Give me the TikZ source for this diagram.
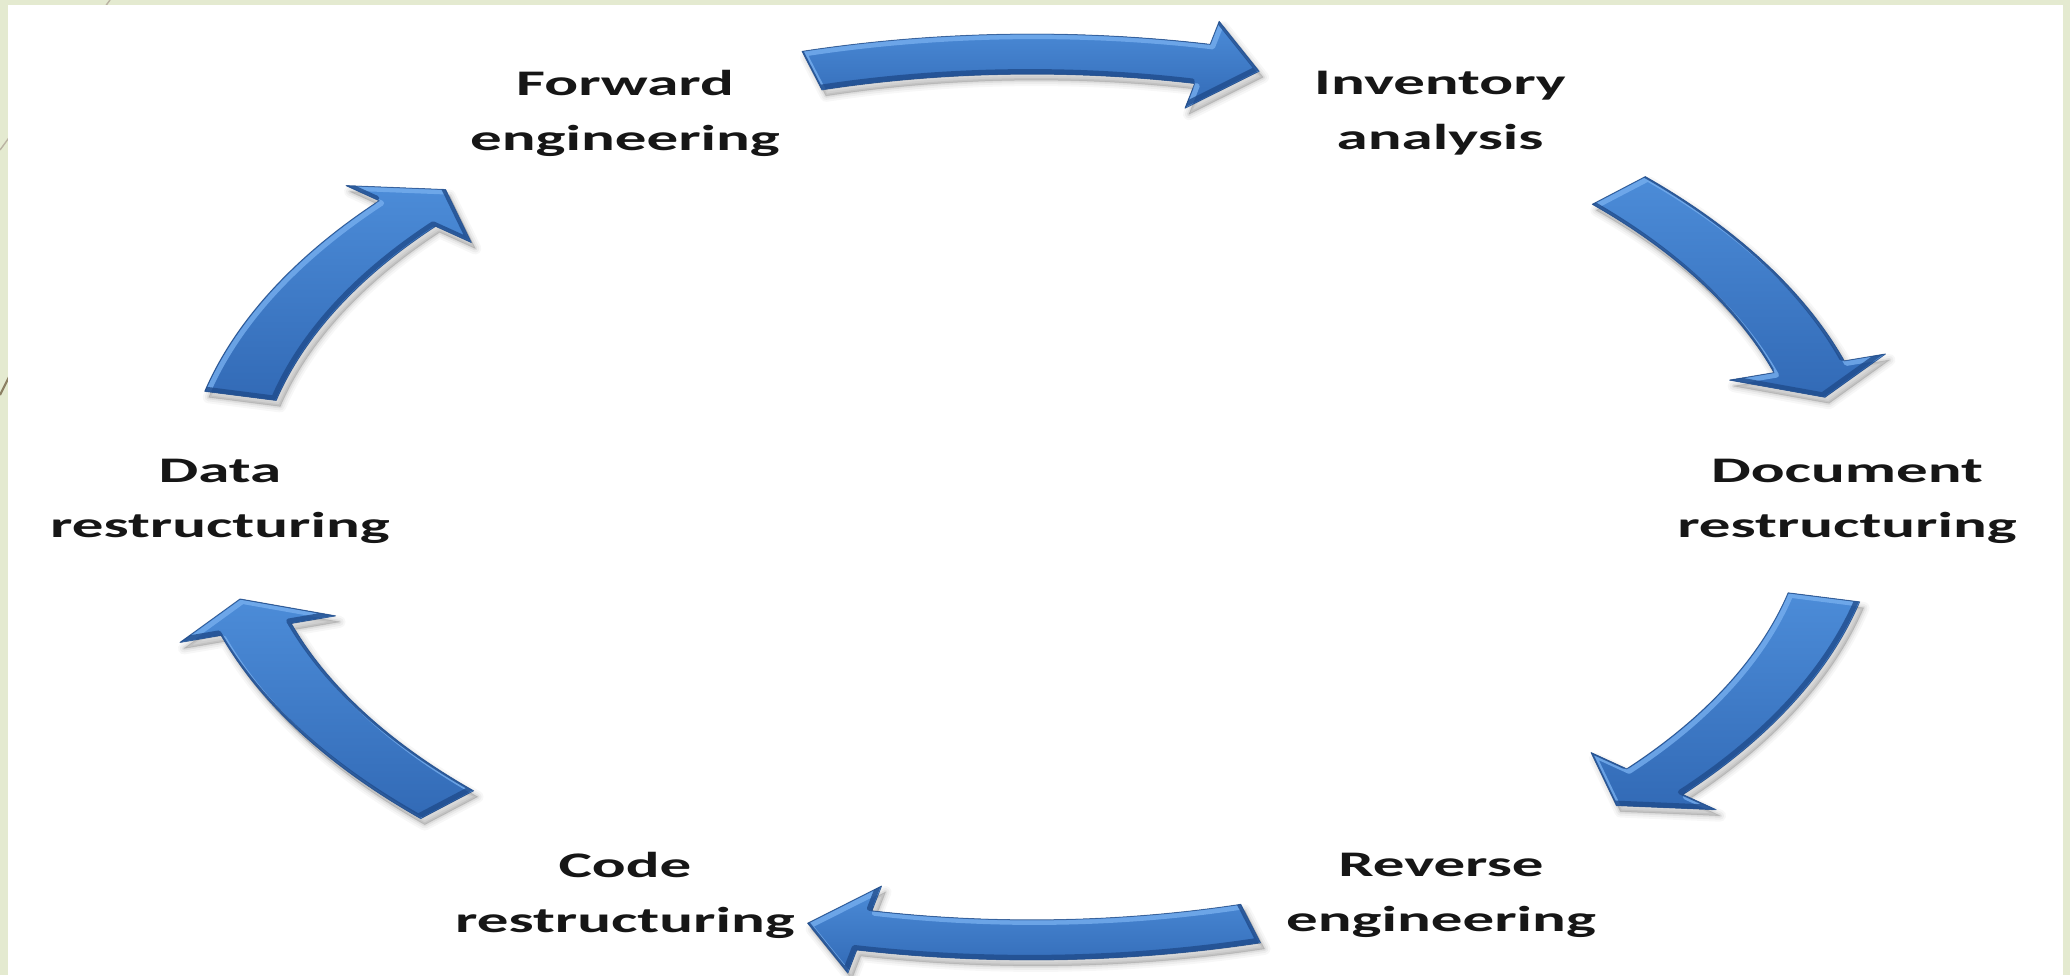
\documentclass[tikz,border=0pt]{standalone}
\usepackage{fontspec}
\newfontfamily\lblfont{Carlito}[FakeStretch=1.75]
\begin{document}
\begin{tikzpicture}[x=0.01cm,y=0.01cm]
  \definecolor{slidebg}{RGB}{228,234,208}
  \definecolor{slideline}{RGB}{140,128,100}
  \definecolor{arrowtop}{RGB}{76,140,216}
  \definecolor{arrowbot}{RGB}{50,106,182}
  \definecolor{bevellight}{RGB}{118,174,238}
  \definecolor{beveldark}{RGB}{32,76,140}
  \definecolor{labeltext}{RGB}{22,22,22}
  \tikzset{
    lbl/.style={inner sep=0pt, align=center, text=labeltext,
      font=\lblfont\bfseries\fontsize{10.24pt}{15.65pt}\selectfont},
  }
  % ellipse the cycle runs on, and the radii of the arrow parts
  \def\rx{8.15cm}\def\ry{4.44cm}
  \def\ro{1.042}\def\ri{0.952}\def\tp{0.998}\def\bo{1.095}\def\bi{0.895}
  \newcommand\cyclearrow[2]{%
    \pgfmathsetmacro\hb{#2+4.1}%
    \def\arrowshape{({#1}:{\ro*\rx} and {\ro*\ry})
      arc[start angle={#1}, end angle=\hb, x radius={\ro*\rx}, y radius={\ro*\ry}]
      -- (\hb:{\bo*\rx} and {\bo*\ry}) -- ({#2}:{\tp*\rx} and {\tp*\ry})
      -- (\hb:{\bi*\rx} and {\bi*\ry}) -- (\hb:{\ri*\rx} and {\ri*\ry})
      arc[start angle=\hb, end angle={#1}, x radius={\ri*\rx}, y radius={\ri*\ry}]
      -- cycle}%
    % soft drop shadow
    \foreach \w/\o in {12/0.03,8/0.04,4/0.06,1/0.08}{%
      \draw[black, opacity=\o, line width=\w*0.01cm, line join=round,
        fill=black, fill opacity=0.03, shift={(4,-6)}] \arrowshape;
    }
    % body
    \fill[top color=arrowtop, bottom color=arrowbot] \arrowshape;
    % bevel: light along the upper-left edges, dark along the lower-right ones
    \begin{scope}
      \clip \arrowshape;
      \draw[bevellight, line width=5*0.01cm, line join=round, opacity=0.8,
        shift={(2.5,-2.5)}] \arrowshape;
      \draw[beveldark, line width=5*0.01cm, line join=round, opacity=0.8,
        shift={(-2.5,2.5)}] \arrowshape;
    \end{scope}
    \draw[beveldark, line width=1*0.01cm, line join=round, opacity=0.6] \arrowshape;
  }

  \useasboundingbox (0,0) rectangle (2070,975);
  % slide background with its thin decorative strokes
  \fill[slidebg] (0,0) rectangle (2070,975);
  \draw[slideline!60, line width=0.4pt] (110,975) -- (0,825);
  \draw[slideline, line width=0.6pt] (0,580) -- (20,620);
  \fill[white] (8,0) rectangle (2063,970);

  % cycle arrows, clockwise
  \begin{scope}[shift={(1032,478)}]
    \cyclearrow{105.7}{73.8}
    \cyclearrow{43.8}{13}
    \cyclearrow{-13.1}{-44.1}
    \cyclearrow{-74.4}{-106}
    \cyclearrow{-136}{-166.7}
    \cyclearrow{166.8}{136.1}
  \end{scope}

  % stage labels
  \node[lbl] (fwd)  at (625,862)  {Forward\\engineering};
  \node[lbl] (inv)  at (1440,862) {Inventory\\analysis};
  \node[lbl] (doc)  at (1847,474) {Document\\restructuring};
  \node[lbl] (rev)  at (1441,80)  {Reverse\\engineering};
  \node[lbl] (code) at (625,80)   {Code\\restructuring};
  \node[lbl] (data) at (220,474)  {Data\\restructuring};
\end{tikzpicture}
\end{document}
